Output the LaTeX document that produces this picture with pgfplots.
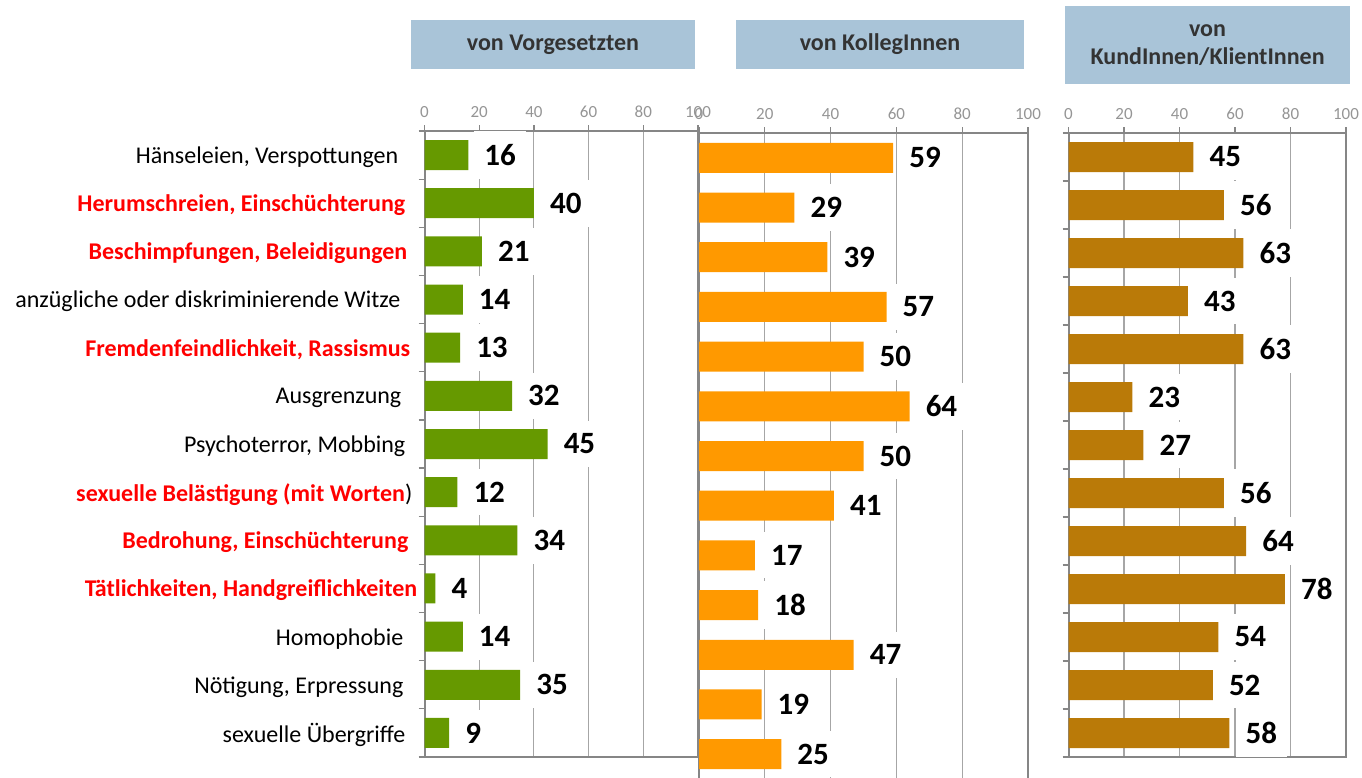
\documentclass[border=0pt]{standalone}
\usepackage{pgfplots}
\usepackage{pgfplotstable}
\pgfplotsset{compat=1.18}
\usepackage{fontspec}
\setmainfont{Carlito}
\definecolor{cgreen}{HTML}{669900}
\definecolor{corange}{HTML}{FF9900}
\definecolor{cgold}{HTML}{BA7A08}
\definecolor{hdr}{HTML}{A9C4D8}
\definecolor{hdrtext}{HTML}{333333}
\definecolor{axisgray}{HTML}{868686}
\definecolor{gridgray}{HTML}{A6A6A6}
\definecolor{tickgray}{HTML}{959595}
\definecolor{cred}{HTML}{FF0000}

\pgfplotstableread{
cat v
1 16
2 40
3 21
4 14
5 13
6 32
7 45
8 12
9 34
10 4
11 14
12 35
13 9
}\vorg
\pgfplotstableread{
cat v
1 59
2 29
3 39
4 57
5 50
6 64
7 50
8 41
9 17
10 18
11 47
12 19
13 25
}\koll
\pgfplotstableread{
cat v
1 45
2 56
3 63
4 43
5 63
6 23
7 27
8 56
9 64
10 78
11 54
12 52
13 58
}\kund

\pgfplotsset{
  panel/.style={
    scale only axis, xbar, bar width=30pt,
    xmin=0, xmax=100, ymin=0.5, ymax=13.5, y dir=reverse,
    xtick={0,20,...,100}, xtick pos=right, xticklabel pos=right,
    tick align=outside, major tick length=6pt,
    xticklabel style={font=\fontsize{17}{17}\selectfont, text=tickgray, yshift=4pt},
    /pgf/number format/assume math mode=true,
    xmajorgrids, grid style={draw=gridgray, line width=1.1pt},
    axis line style={draw=axisgray, line width=2pt},
    tick style={draw=axisgray, line width=1.2pt},
    clip=false,
    nodes near coords,
    every node near coord/.append style={anchor=west, xshift=6pt, fill=white,
      inner xsep=10pt, inner ysep=13pt,
      font=\bfseries\fontsize{31}{31}\selectfont, text=black},
  },
}

\begin{document}
\begin{tikzpicture}
\path[use as bounding box, clip] (0pt,0pt) rectangle (1362pt,-777pt);

% left panel
\begin{axis}[panel,
  at={(424.5pt,-131pt)}, anchor=north west,
  width=273.5pt, height=626pt,
  ytick={0.5,1.5,...,13.5}, yticklabels={}, ytick pos=left,
  extra y ticks={1,2,...,13},
  extra y tick style={major tick length=0pt, tick style={draw=none}},
  yticklabel style={anchor=east, inner sep=0pt, xshift=-7pt, yshift=-2pt, font=\fontsize{24}{24}\selectfont},
  extra y tick labels={
    {Hänseleien, Verspottungen\kern19pt},
    {\color{cred}\bfseries Herumschreien, Einschüchterung\kern12pt},
    {\color{cred}\bfseries Beschimpfungen, Beleidigungen\kern10pt},
    {anzügliche oder diskriminierende Witze\kern17pt},
    {\color{cred}\bfseries Fremdenfeindlichkeit, Rassismus\kern7pt},
    {Ausgrenzung\kern16pt},
    {Psychoterror, Mobbing\kern12pt},
    {{\color{cred}\bfseries sexuelle Belästigung (mit Worten})\kern5pt},
    {\color{cred}\bfseries Bedrohung, Einschüchterung\kern9pt},
    {\color{cred}\bfseries Tätlichkeiten, Handgreiflichkeiten},
    {Homophobie\kern14pt},
    {Nötigung, Erpressung\kern14pt},
    {sexuelle Übergriffe\kern12pt}
  },
]
\addplot[fill=cgreen, draw=none] table[x=v, y=cat] {\vorg};
\end{axis}

% middle panel
\begin{axis}[panel,
  at={(699pt,-133pt)}, anchor=north west,
  width=329pt, height=646pt,
  ytick=\empty,
]
\addplot[fill=corange, draw=none] table[x=v, y=cat] {\koll};
\end{axis}

% right panel
\begin{axis}[panel,
  at={(1068.5pt,-133pt)}, anchor=north west,
  width=277.5pt, height=624pt,
  ytick={0.5,1.5,...,13.5}, yticklabels={}, ytick pos=left,
]
\addplot[fill=cgold, draw=none] table[x=v, y=cat] {\kund};
\end{axis}

% header boxes
\tikzset{hdrbox/.style={fill=hdr, text=hdrtext, font=\bfseries\fontsize{24}{28}\selectfont, align=center, inner sep=0pt}}
\node[hdrbox, minimum width=284pt, minimum height=49pt] at (553pt,-44.5pt) {von Vorgesetzten};
\node[hdrbox, minimum width=288pt, minimum height=49pt] at (880pt,-44.5pt) {von KollegInnen};
\node[hdrbox, minimum width=285pt, minimum height=78pt] at (1207.5pt,-45pt) {von\\KundInnen/KlientInnen};
\end{tikzpicture}
\end{document}
